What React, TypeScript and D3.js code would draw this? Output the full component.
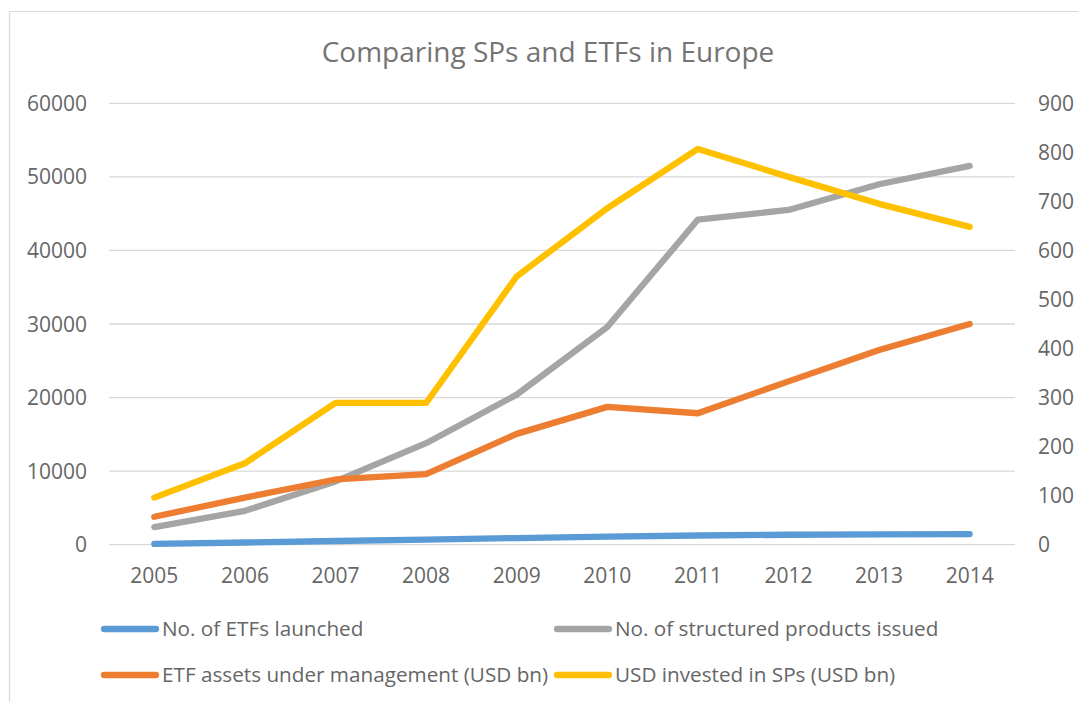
import React from "react";
import * as d3 from "d3";

const years = ["2005", "2006", "2007", "2008", "2009", "2010", "2011", "2012", "2013", "2014"];
const etfsLaunched = [100, 300, 500, 700, 900, 1100, 1250, 1350, 1400, 1450];
const structuredProducts = [2400, 4600, 8600, 13800, 20400, 29600, 44200, 45500, 49000, 51500];
const etfAssets = [57, 96, 133, 144, 226, 281, 268, 333, 397, 450];
const spInvested = [96, 166, 289, 289, 547, 686, 807, 750, 695, 648];
const leftTicks = [0, 10000, 20000, 30000, 40000, 50000, 60000];
const rightTicks = [0, 100, 200, 300, 400, 500, 600, 700, 800, 900];

const seriesNames = [
  "No. of ETFs launched",
  "No. of structured products issued",
  "ETF assets under management (USD bn)",
  "USD invested in SPs (USD bn)",
];

const W = 1078;
const H = 702;
const FONT = "'Open Sans', 'Noto Sans', sans-serif";
const TEXT = "#666666";
const GRID = "#D9D9D9";

export default function App() {
  const x = d3.scalePoint<string>().domain(years).range([109, 1015]).padding(0.5);
  const yL = d3.scaleLinear().domain([0, 60000]).range([544.7, 103.3]);
  const yR = d3.scaleLinear().domain([0, 900]).range([544.7, 103.3]);

  const series = [
    { name: seriesNames[0], values: etfsLaunched, color: "#5B9BD5", axis: "L" },
    { name: seriesNames[1], values: structuredProducts, color: "#A5A5A5", axis: "L" },
    { name: seriesNames[2], values: etfAssets, color: "#ED7D31", axis: "R" },
    { name: seriesNames[3], values: spInvested, color: "#FFC000", axis: "R" },
  ];

  const legendPos = [
    { x: 104, y: 629 },
    { x: 557, y: 629 },
    { x: 104, y: 675 },
    { x: 557, y: 675 },
  ];

  return (
    <svg
      width={W}
      height={H}
      style={{ position: "absolute", left: 0, top: 0, background: "#fff" }}
      fontFamily={FONT}
    >
      <rect x={0} y={0} width={W} height={H} fill="#fff" />
      <line x1={9.5} x2={W} y1={11.5} y2={11.5} stroke={GRID} strokeWidth={1} />
      <line x1={9.5} x2={9.5} y1={11.5} y2={H} stroke={GRID} strokeWidth={1.2} />

      <text x={548} y={62} textAnchor="middle" fontSize={28} fill="#747474">
        Comparing SPs and ETFs in Europe
      </text>

      {leftTicks.map((t) => (
        <line key={"g" + t} x1={109} x2={1015} y1={yL(t)} y2={yL(t)} stroke={GRID} strokeWidth={1.3} />
      ))}

      {leftTicks.map((t) => (
        <text key={"l" + t} x={87} y={yL(t) + 7.5} textAnchor="end" fontSize={21} fill={TEXT}>
          {t}
        </text>
      ))}
      {rightTicks.map((t) => (
        <text key={"r" + t} x={1038} y={yR(t) + 7.5} textAnchor="start" fontSize={21} fill={TEXT}>
          {t}
        </text>
      ))}
      {years.map((yr) => (
        <text key={"x" + yr} x={x(yr)} y={583} textAnchor="middle" fontSize={21} fill={TEXT}>
          {yr}
        </text>
      ))}

      {series.map((s) => {
        const ys = s.axis === "L" ? yL : yR;
        const line = d3
          .line<number>()
          .x((_, i) => x(years[i]) as number)
          .y((v) => ys(v));
        return (
          <path
            key={s.name}
            d={line(s.values) || ""}
            fill="none"
            stroke={s.color}
            strokeWidth={6.3}
            strokeLinecap="round"
            strokeLinejoin="round"
          />
        );
      })}

      {series.map((s, i) => {
        const p = legendPos[i];
        return (
          <g key={"lg" + i}>
            <line x1={p.x} x2={p.x + 52} y1={p.y} y2={p.y} stroke={s.color} strokeWidth={6.3} strokeLinecap="round" />
            <text x={p.x + 58} y={p.y + 7} fontSize={20.7} fill={TEXT}>
              {s.name}
            </text>
          </g>
        );
      })}
    </svg>
  );
}
